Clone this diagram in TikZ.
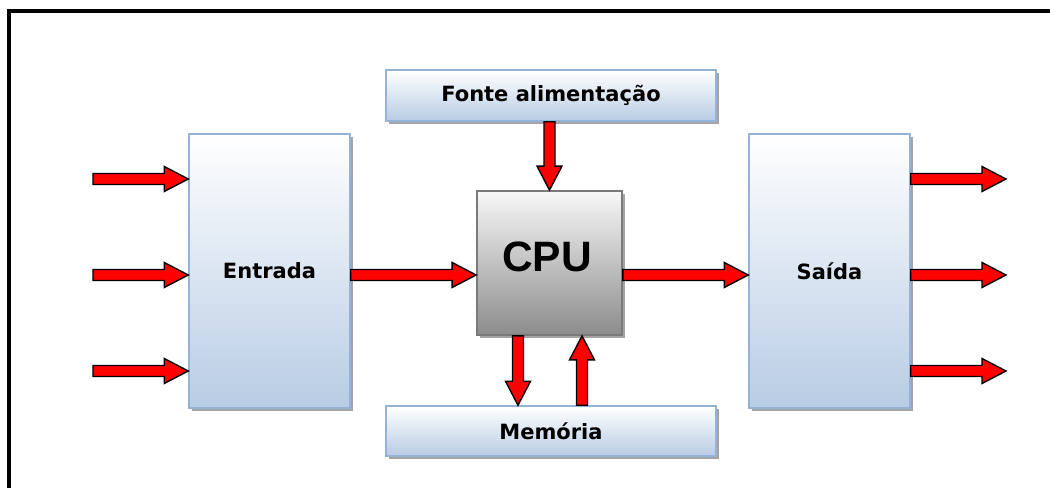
\documentclass[tikz,border=0pt]{standalone}
\usepackage{fontspec}
\setmainfont{DejaVu Sans}
\newfontfamily\cpufont{Liberation Sans}
\usetikzlibrary{calc,shadows}

\definecolor{boxedge}{HTML}{95B3D7}
\definecolor{boxblue}{HTML}{B8CCE4}
\definecolor{cpuedge}{HTML}{7A7A7A}
\definecolor{cpudark}{HTML}{8C8C8C}
\definecolor{shadowgray}{HTML}{A4A4A4}

% thick block arrow from #1 to #2 (tip at #2)
\newcommand\blockarrow[2]{%
  \draw[arrowbody] let \p1=(#1), \p2=(#2),
      \n1={atan2(\y2-\y1,\x2-\x1)}, \n2={veclen(\x2-\x1,\y2-\y1)} in
    [shift={(\p1)}, rotate=\n1]
    (0pt,-5.5pt) -- ({\n2-24pt},-5.5pt) -- ({\n2-24pt},-12.5pt) -- ({\n2},0pt)
    -- ({\n2-24pt},12.5pt) -- ({\n2-24pt},5.5pt) -- (0pt,5.5pt) -- cycle;}

\begin{document}
\begin{tikzpicture}[x=1pt,y=1pt,
  unitbox/.style={draw=boxedge, line width=1.5pt, top color=white,
    bottom color=boxblue, inner sep=0pt,
    font=\bfseries\fontsize{21}{25}\selectfont,
    general shadow={fill=shadowgray, shadow xshift=3pt, shadow yshift=-3pt}},
  cpubox/.style={draw=cpuedge, line width=1.8pt, top color=white!97!black,
    bottom color=cpudark, inner sep=0pt,
    font=\cpufont\bfseries\fontsize{42.5}{46}\selectfont,
    general shadow={fill=shadowgray, shadow xshift=3pt, shadow yshift=-3pt}},
  arrowbody/.style={draw=black, fill=red, line width=1.4pt, line join=miter}]

\useasboundingbox (0,0) rectangle (1050,488);
\fill[white] (0,0) rectangle (1050,488);

% outer frame (top and left edges)
\draw[line width=4pt] (9,0) -- (9,476.5) -- (1050,476.5);

% blocks
\node[unitbox, minimum width=330, minimum height=51] (fonte) at (551,392.5) {Fonte alimentação};
\node[unitbox, minimum width=161, minimum height=274] (entrada) at (269.5,217) {Entrada};
\node[unitbox, minimum width=161, minimum height=274] (saida) at (829.5,217) {Saída};
\node[unitbox, minimum width=330, minimum height=50] (mem) at (551,57) {Memória};
\node[cpubox, minimum width=145, minimum height=144, text depth=0pt] (cpu) at (549.5,225) {\hspace*{-5pt}\raisebox{13pt}{CPU}};

% arrow rows and columns
\coordinate (in1) at (93,309);
\coordinate (in2) at (93,213);
\coordinate (in3) at (93,117);
\coordinate (out1) at (1006,309);
\coordinate (out2) at (1006,213);
\coordinate (out3) at (1006,117);
\coordinate (dn) at (518,0);
\coordinate (up) at (582,0);

% inputs
\blockarrow{in1}{entrada.west |- in1}
\blockarrow{in2}{entrada.west |- in2}
\blockarrow{in3}{entrada.west |- in3}

% data path through the CPU
\blockarrow{entrada.east |- in2}{cpu.west |- in2}
\blockarrow{cpu.east |- in2}{saida.west |- in2}

% outputs
\blockarrow{saida.east |- out1}{out1}
\blockarrow{saida.east |- out2}{out2}
\blockarrow{saida.east |- out3}{out3}

% power supply and memory
\blockarrow{fonte.south -| cpu.north}{cpu.north}
\blockarrow{cpu.south -| dn}{mem.north -| dn}
\blockarrow{mem.north -| up}{cpu.south -| up}
\end{tikzpicture}
\end{document}
